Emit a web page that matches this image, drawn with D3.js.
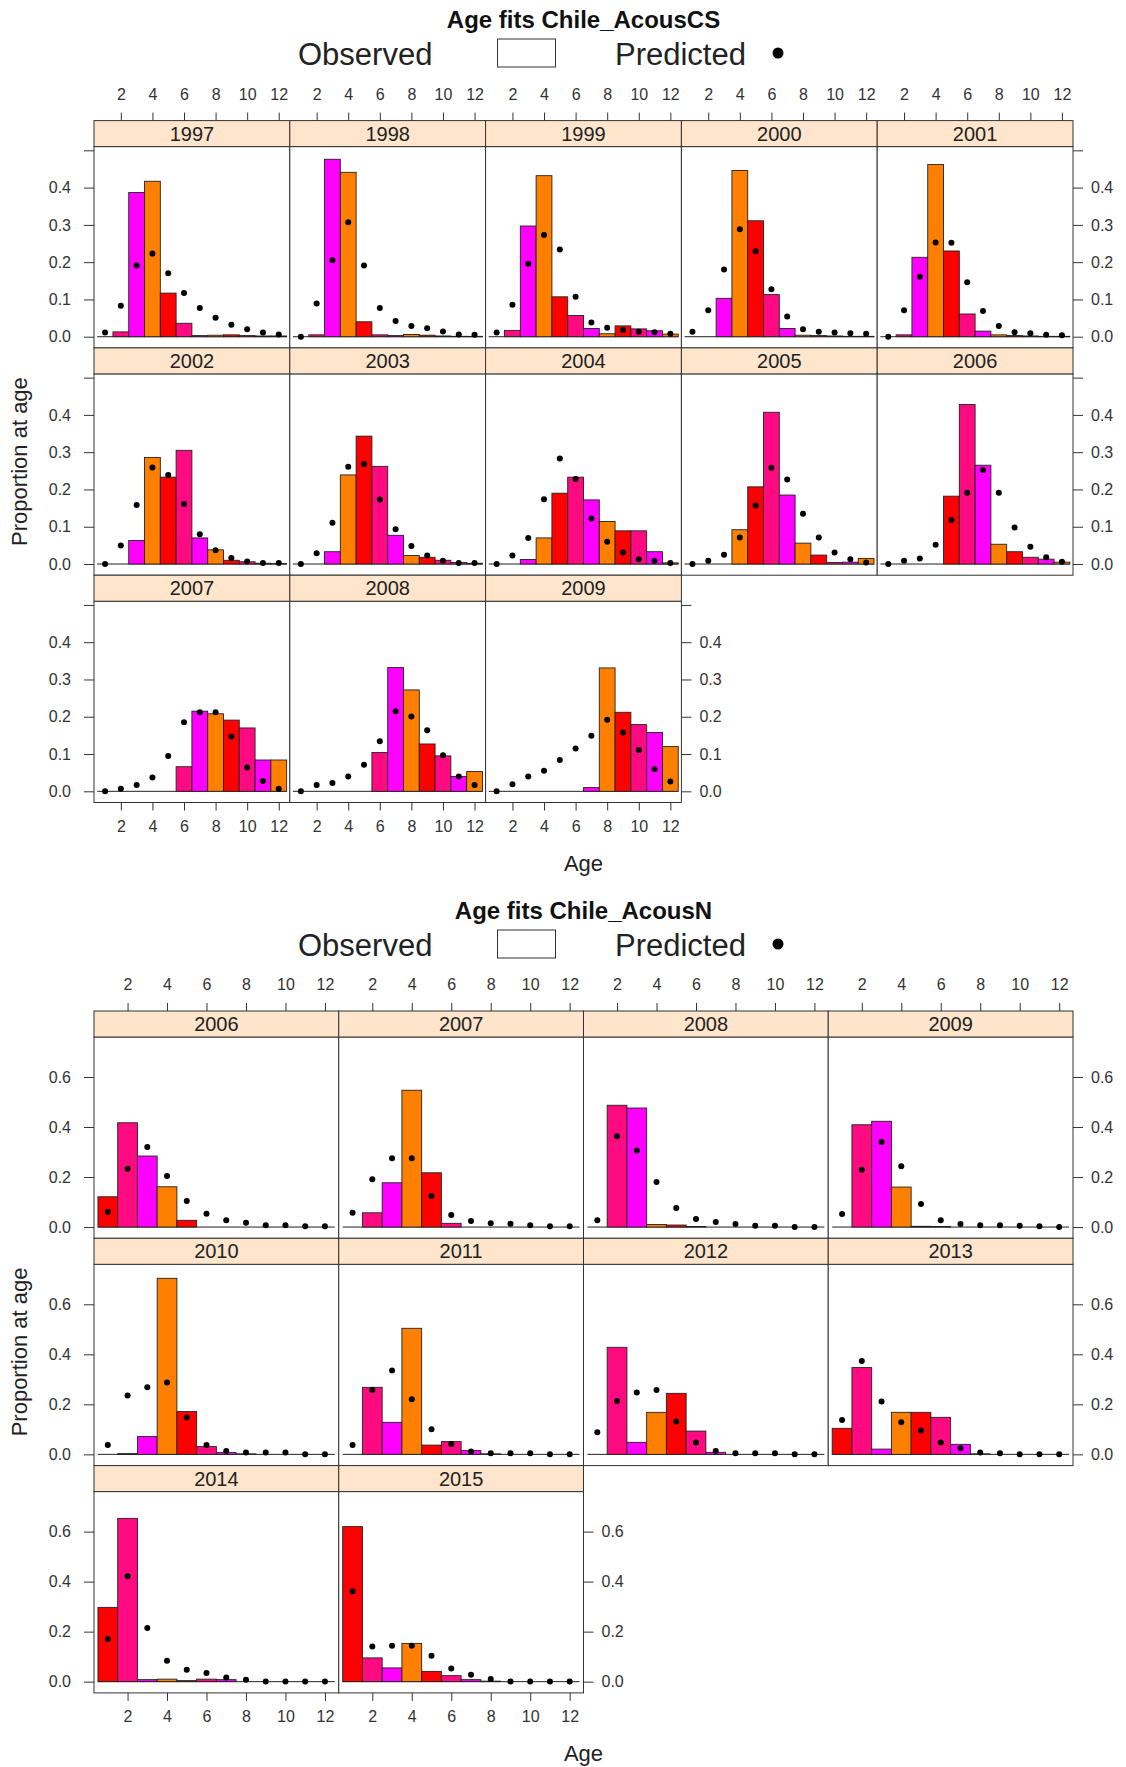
<!DOCTYPE html>
<html>
<head>
<meta charset="utf-8">
<script src="https://cdn.jsdelivr.net/npm/d3@7"></script>
<style>
  body { margin: 0; background: #fff; }
  text { font-family: "Liberation Sans", Arial, Helvetica, sans-serif; }
</style>
</head>
<body>
<div id="chart"></div>
<script>
"use strict";

// ages on the x axis and the colours lattice cycles through (by age)
var ages = [1, 2, 3, 4, 5, 6, 7, 8, 9, 10, 11, 12];
var ageTicks = [2, 4, 6, 8, 10, 12];
var barColors = ["#ff0000", "#ff0a80", "#ff00ff", "#ff8000"];

// Chile_AcousCS
var csYears = [1997, 1998, 1999, 2000, 2001, 2002, 2003, 2004, 2005, 2006, 2007, 2008, 2009];
var csObs = [
  [0, 0.013, 0.387, 0.417, 0.117, 0.036, 0.003, 0.004, 0.005, 0.003, 0.002, 0.002],
  [0, 0.005, 0.476, 0.441, 0.040, 0.005, 0.003, 0.006, 0.004, 0.002, 0.001, 0.001],
  [0, 0.017, 0.297, 0.432, 0.107, 0.057, 0.022, 0.008, 0.029, 0.021, 0.016, 0.007],
  [0, 0, 0.103, 0.446, 0.311, 0.113, 0.022, 0.004, 0.003, 0.002, 0.001, 0.001],
  [0, 0.005, 0.213, 0.462, 0.230, 0.061, 0.015, 0.005, 0.003, 0.002, 0.001, 0.001],
  [0, 0, 0.063, 0.286, 0.233, 0.305, 0.070, 0.038, 0.010, 0.006, 0.002, 0.001],
  [0, 0, 0.033, 0.239, 0.343, 0.262, 0.077, 0.023, 0.018, 0.010, 0.004, 0.002],
  [0, 0, 0.012, 0.070, 0.190, 0.233, 0.172, 0.114, 0.089, 0.089, 0.033, 0.003],
  [0, 0, 0, 0.092, 0.207, 0.407, 0.185, 0.056, 0.024, 0.004, 0.005, 0.015],
  [0, 0, 0, 0, 0.182, 0.428, 0.265, 0.053, 0.033, 0.018, 0.013, 0.005],
  [0, 0, 0, 0, 0, 0.066, 0.215, 0.208, 0.191, 0.170, 0.084, 0.084],
  [0, 0, 0, 0, 0, 0.104, 0.332, 0.272, 0.127, 0.095, 0.040, 0.053],
  [0, 0, 0, 0, 0, 0, 0.010, 0.331, 0.212, 0.179, 0.158, 0.120]
];
var csPred = [
  [0.011, 0.083, 0.191, 0.223, 0.170, 0.117, 0.077, 0.051, 0.032, 0.020, 0.011, 0.006],
  [0.000, 0.089, 0.205, 0.307, 0.191, 0.077, 0.042, 0.029, 0.023, 0.014, 0.006, 0.005],
  [0.011, 0.086, 0.196, 0.273, 0.234, 0.107, 0.038, 0.024, 0.018, 0.013, 0.012, 0.008],
  [0.013, 0.071, 0.180, 0.288, 0.229, 0.127, 0.054, 0.020, 0.013, 0.011, 0.009, 0.008],
  [0.000, 0.071, 0.161, 0.253, 0.252, 0.146, 0.069, 0.029, 0.012, 0.009, 0.005, 0.004],
  [0.000, 0.050, 0.158, 0.259, 0.239, 0.161, 0.080, 0.037, 0.016, 0.007, 0.003, 0.003],
  [0.000, 0.029, 0.111, 0.261, 0.268, 0.173, 0.093, 0.048, 0.023, 0.009, 0.003, 0.003],
  [0.000, 0.023, 0.070, 0.174, 0.283, 0.228, 0.122, 0.060, 0.031, 0.013, 0.009, 0.003],
  [0.000, 0.009, 0.025, 0.071, 0.157, 0.258, 0.227, 0.135, 0.071, 0.031, 0.013, 0.004],
  [0.000, 0.009, 0.015, 0.052, 0.118, 0.191, 0.252, 0.191, 0.098, 0.046, 0.018, 0.006],
  [0.000, 0.007, 0.017, 0.037, 0.095, 0.185, 0.212, 0.212, 0.147, 0.064, 0.028, 0.007],
  [0.000, 0.017, 0.022, 0.040, 0.071, 0.134, 0.215, 0.201, 0.164, 0.097, 0.040, 0.017],
  [0.000, 0.019, 0.040, 0.055, 0.084, 0.115, 0.149, 0.192, 0.158, 0.111, 0.059, 0.026]
];
var csTicks = [0, 0.1, 0.2, 0.3, 0.4, 0.5];
var csLabels = [0, 0.1, 0.2, 0.3, 0.4];

// Chile_AcousN
var nYears = [2006, 2007, 2008, 2009, 2010, 2011, 2012, 2013, 2014, 2015];
var nObs = [
  [0.121, 0.417, 0.284, 0.161, 0.027, 0, 0, 0, 0, 0, 0, 0],
  [0, 0.057, 0.177, 0.547, 0.217, 0.015, 0, 0, 0, 0, 0, 0],
  [0, 0.487, 0.476, 0.010, 0.008, 0.002, 0, 0, 0, 0, 0, 0],
  [0, 0.409, 0.423, 0.160, 0.003, 0.002, 0, 0, 0, 0, 0, 0],
  [0, 0.003, 0.071, 0.704, 0.171, 0.031, 0.007, 0.002, 0, 0, 0, 0],
  [0, 0.268, 0.128, 0.504, 0.037, 0.051, 0.015, 0.002, 0, 0, 0, 0],
  [0, 0.428, 0.048, 0.168, 0.244, 0.093, 0.008, 0, 0, 0, 0, 0],
  [0.104, 0.347, 0.021, 0.168, 0.168, 0.148, 0.040, 0.002, 0, 0, 0, 0],
  [0.297, 0.653, 0.008, 0.010, 0.004, 0.010, 0.008, 0, 0, 0, 0, 0],
  [0.620, 0.095, 0.055, 0.153, 0.041, 0.024, 0.008, 0.002, 0, 0, 0, 0]
];
var nPred = [
  [0.061, 0.233, 0.320, 0.204, 0.104, 0.053, 0.027, 0.017, 0.007, 0.007, 0.003, 0.003],
  [0.057, 0.191, 0.275, 0.275, 0.124, 0.048, 0.024, 0.015, 0.013, 0.007, 0.003, 0.003],
  [0.027, 0.363, 0.306, 0.180, 0.076, 0.032, 0.020, 0.012, 0.005, 0.005, 0.000, 0.000],
  [0.052, 0.229, 0.340, 0.243, 0.092, 0.027, 0.012, 0.007, 0.007, 0.005, 0.003, 0.000],
  [0.037, 0.235, 0.268, 0.287, 0.147, 0.037, 0.013, 0.007, 0.007, 0.007, 0.000, 0.000],
  [0.037, 0.257, 0.335, 0.220, 0.100, 0.041, 0.011, 0.004, 0.004, 0.004, 0.000, 0.000],
  [0.088, 0.213, 0.247, 0.257, 0.131, 0.047, 0.013, 0.004, 0.004, 0.004, 0.000, 0.000],
  [0.137, 0.373, 0.211, 0.128, 0.095, 0.047, 0.024, 0.007, 0.004, 0.000, 0.000, 0.000],
  [0.171, 0.421, 0.215, 0.084, 0.048, 0.035, 0.017, 0.008, 0.001, 0.001, 0.001, 0.001],
  [0.361, 0.141, 0.144, 0.144, 0.104, 0.053, 0.028, 0.011, 0.001, 0.001, 0.001, 0.001]
];
var nTicks = [0, 0.2, 0.4, 0.6];
var nLabels = [0, 0.2, 0.4, 0.6];


var width = 1126;
var height = 1767;
var ink = "#333";

var svg = d3.select("#chart").append("svg")
  .attr("width", width)
  .attr("height", height)
  .attr("style", "background:#fff;");

var fmt = d3.format(".1f");

function styleAxis(g, size){
  g.select(".domain").remove();
  g.attr("font-size", size)
    .attr("font-family", null)
    .attr("color", ink);
  g.selectAll("line").attr("stroke-width", 1);
}

var drawChart = function(title, years, obs, pred, yTicks, yLabels, lay){
  var g = svg.append("g");
  var plotW = lay.pw * lay.ncol;
  var nrow = Math.ceil(years.length / lay.ncol);
  var centerX = lay.left + plotW / 2;

  // title + key
  g.append("text")
    .text(title)
    .attr("x", centerX)
    .attr("y", lay.titleY)
    .attr("text-anchor", "middle")
    .attr("font-weight", "bold")
    .attr("font-size", "24px")
    .attr("fill", "#111");

  g.append("text")
    .text("Observed")
    .attr("x", 298)
    .attr("y", lay.keyY)
    .attr("font-size", "31px")
    .attr("fill", "#222");
  g.append("rect")
    .attr("x", 497.5)
    .attr("y", lay.keyY - 26)
    .attr("width", 58)
    .attr("height", 28)
    .attr("fill", "none")
    .attr("stroke", ink);
  g.append("text")
    .text("Predicted")
    .attr("x", 615)
    .attr("y", lay.keyY)
    .attr("font-size", "31px")
    .attr("fill", "#222");
  g.append("circle")
    .attr("cx", 778)
    .attr("cy", lay.keyY - 12)
    .attr("r", 5.5)
    .attr("fill", "#000");

  var x = d3.scaleLinear().domain([0.3, 12.7]).range([0, lay.pw]);
  var y = d3.scaleLinear().domain(lay.yDomain).range([lay.ph, 0]);
  var bw = x(1) - x(0);

  years.forEach(function(yr, i){
    var col = i % lay.ncol;
    var row = Math.floor(i / lay.ncol);
    var px = lay.left + col * lay.pw;
    var sy = lay.top + row * (lay.stripH + lay.ph);
    var py = sy + lay.stripH;
    var lastInRow = (col == lay.ncol - 1) || (i == years.length - 1);

    var p = g.append("g").attr("transform", "translate(" + px + "," + py + ")");

    p.append("rect")
      .attr("width", lay.pw)
      .attr("height", lay.ph)
      .attr("fill", "#fff");

    // zero-height bars show as their outline along 0
    p.append("line")
      .attr("x1", x(0.5))
      .attr("x2", x(12.5))
      .attr("y1", y(0))
      .attr("y2", y(0))
      .attr("stroke", "#222")
      .attr("stroke-width", 1);

    p.selectAll("rect.bar")
      .data(ages)
        .enter()
          .append("rect")
            .attr("class", "bar")
            .attr("x", function(d){ return x(d - 0.5); })
            .attr("width", bw)
            .attr("y", function(d, j){ return y(obs[i][j]); })
            .attr("height", function(d, j){ return y(0) - y(obs[i][j]); })
            .attr("fill", function(d){ return barColors[(d - 1) % 4]; })
            .attr("stroke", "#222")
            .attr("stroke-width", 0.9);

    p.selectAll("circle")
      .data(ages)
        .enter()
          .append("circle")
            .attr("cx", function(d){ return x(d); })
            .attr("cy", function(d, j){ return y(pred[i][j]); })
            .attr("r", 3)
            .attr("fill", "#000");

    p.append("rect")
      .attr("width", lay.pw)
      .attr("height", lay.ph)
      .attr("fill", "none")
      .attr("stroke", ink);

    // strip
    var s = g.append("g").attr("transform", "translate(" + px + "," + sy + ")");
    s.append("rect")
      .attr("width", lay.pw)
      .attr("height", lay.stripH)
      .attr("fill", "#ffe5cc")
      .attr("stroke", ink);
    s.append("text")
      .text(yr)
      .attr("x", lay.pw / 2)
      .attr("y", lay.stripH / 2 + 7)
      .attr("text-anchor", "middle")
      .attr("font-size", "20px")
      .attr("fill", "#222");

    // axes
    if(row == 0){
      g.append("g")
        .attr("transform", "translate(" + px + "," + sy + ")")
        .call(d3.axisTop(x).tickValues(ageTicks).tickSize(8).tickPadding(13))
        .call(styleAxis, "16px");
    }
    if(row == nrow - 1){
      g.append("g")
        .attr("transform", "translate(" + px + "," + (py + lay.ph) + ")")
        .call(d3.axisBottom(x).tickValues(ageTicks).tickSize(8).tickPadding(10))
        .call(styleAxis, "16px");
    }
    var yFmt = function(v){ return yLabels.indexOf(v) >= 0 ? fmt(v) : ""; };
    if(col == 0){
      g.append("g")
        .attr("transform", "translate(" + px + "," + py + ")")
        .call(d3.axisLeft(y).tickValues(yTicks).tickFormat(yFmt).tickSize(10).tickPadding(13))
        .call(styleAxis, "16px");
    }
    if(lastInRow){
      g.append("g")
        .attr("transform", "translate(" + (px + lay.pw) + "," + py + ")")
        .call(d3.axisRight(y).tickValues(yTicks).tickFormat(yFmt).tickSize(10).tickPadding(8))
        .call(styleAxis, "16px");
    }
  });

  var rowsTop = lay.top;
  var rowsBottom = lay.top + nrow * (lay.stripH + lay.ph);

  g.append("text")
    .text("Age")
    .attr("x", centerX)
    .attr("y", rowsBottom + 68)
    .attr("text-anchor", "middle")
    .attr("font-size", "22px")
    .attr("fill", "#222");

  g.append("text")
    .text("Proportion at age")
    .attr("transform", "translate(27," + ((rowsTop + rowsBottom) / 2) + ") rotate(-90)")
    .attr("text-anchor", "middle")
    .attr("font-size", "22px")
    .attr("fill", "#222");
};

drawChart("Age fits Chile_AcousCS", csYears, csObs, csPred, csTicks, csLabels, {
  titleY: 28, keyY: 65, top: 120.6, left: 94, ncol: 5, pw: 195.8,
  stripH: 26, ph: 201.3, yDomain: [-0.03, 0.51]
});

drawChart("Age fits Chile_AcousN", nYears, nObs, nPred, nTicks, nLabels, {
  titleY: 918.6, keyY: 956, top: 1011, left: 94, ncol: 4, pw: 244.75,
  stripH: 26, ph: 201.3, yDomain: [-0.045, 0.76]
});

</script>
</body>
</html>
